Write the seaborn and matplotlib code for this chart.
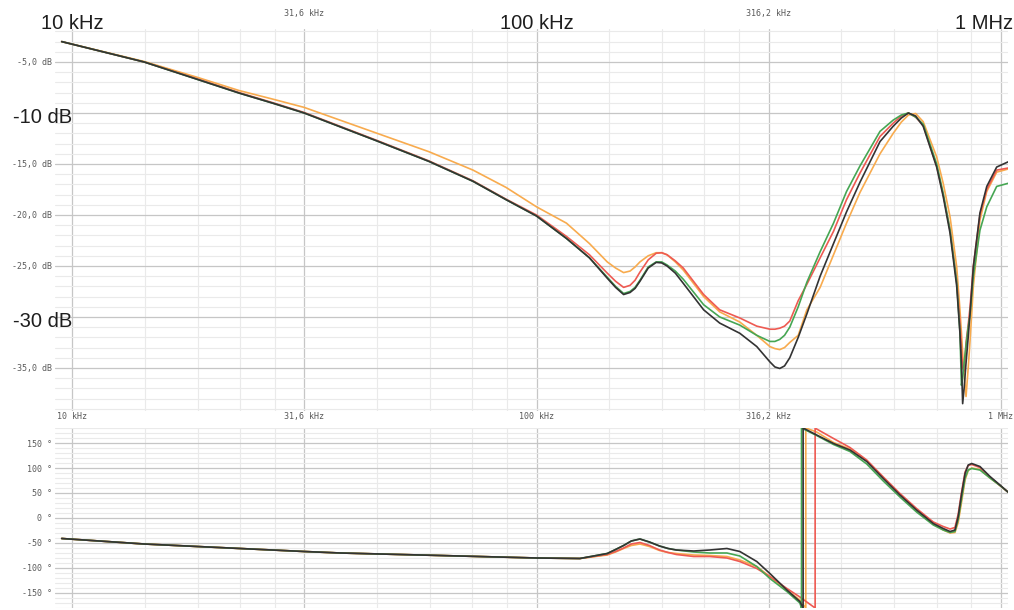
import matplotlib
matplotlib.use('Agg')
import matplotlib.pyplot as plt
import matplotlib.ticker as mticker
import pandas as pd
import seaborn as sns


# Trace data

TRACES = ['orange', 'red', 'green', 'black']
TRACE_COLORS = {'orange': '#f8ab4e', 'red': '#ee5a52', 'green': '#46a653', 'black': '#333333'}

MAG_KHZ = [9.5, 14.3, 18.6, 22.9, 27.1, 31.6, 45.1, 58.7, 73, 86,
           100, 116, 130, 142, 148, 154, 159, 163, 167, 174,
           181, 186, 191, 199, 207, 229, 248, 274, 298, 318,
           326, 334, 342, 351, 366, 382, 408, 436, 465, 497,
           549, 586, 610, 632, 655, 680, 727, 751, 777, 803,
           816, 822, 827, 833, 841, 850, 858, 872, 901, 932,
           979, 1035]
MAG_BLACK = [-3.0, -5.0, -6.7, -8.05, -9.05, -10.0, -12.7, -14.75, -16.7, -18.5,
             -20.1, -22.3, -24.2, -26.2, -27.1, -27.8, -27.6, -27.2, -26.5, -25.2,
             -24.65, -24.7, -25.0, -25.7, -26.7, -29.3, -30.6, -31.6, -32.9, -34.4,
             -34.9, -35.05, -34.8, -34.0, -32.0, -29.7, -26.0, -22.8, -19.7, -16.8,
             -12.8, -11.3, -10.5, -10.0, -10.3, -11.3, -15.3, -18.2, -21.8, -27.0,
             -31.6, -34.5, -38.5, -37.0, -34.5, -32.0, -29.6, -25.1, -19.8, -17.2,
             -15.3, -14.8]
MAG_GREEN = [-3.0, -5.0, -6.7, -8.05, -9.05, -10.0, -12.7, -14.75, -16.7, -18.5,
             -20.1, -22.3, -24.2, -26.1, -27.0, -27.7, -27.5, -27.1, -26.4, -25.1,
             -24.6, -24.6, -24.9, -25.5, -26.3, -28.8, -30.0, -30.8, -31.8, -32.4,
             -32.4, -32.2, -31.8, -31.0, -29.0, -26.6, -23.6, -20.8, -17.7, -15.2,
             -11.8, -10.7, -10.2, -10.0, -10.4, -11.1, -15.0, -17.9, -21.5, -26.6,
             -31.5, -36.7, -36.0, -34.5, -32.8, -31.0, -29.8, -26.0, -21.5, -19.2,
             -17.2, -16.9]
MAG_RED = [-3.0, -5.0, -6.65, -8.0, -9.0, -9.95, -12.65, -14.7, -16.65, -18.45,
           -20.0, -22.1, -23.9, -25.7, -26.5, -27.1, -26.9, -26.4, -25.6, -24.4,
           -23.75, -23.7, -23.9, -24.5, -25.2, -27.8, -29.3, -30.1, -30.9, -31.2,
           -31.2, -31.1, -30.9, -30.4, -28.4, -26.8, -24.2, -21.6, -18.5, -15.9,
           -12.3, -11.0, -10.3, -10.0, -10.4, -11.2, -15.2, -18.0, -21.5, -26.5,
           -30.5, -33.0, -35.0, -35.3, -32.5, -30.8, -29.0, -25.0, -20.0, -17.5,
           -15.6, -15.4]
MAG_ORANGE = [-3.0, -4.95, -6.5, -7.8, -8.65, -9.45, -11.95, -13.8, -15.6, -17.3,
              -19.2, -20.8, -22.8, -24.6, -25.2, -25.65, -25.5, -25.1, -24.6, -24.0,
              -23.7, -23.7, -23.9, -24.6, -25.4, -28.0, -29.5, -30.5, -31.8, -32.9,
              -33.1, -33.2, -33.0, -32.5, -31.8, -29.3, -27.1, -23.9, -20.8, -17.8,
              -14.0, -12.0, -10.9, -10.2, -10.05, -10.85, -14.3, -16.9, -20.2, -25.1,
              -29.3, -31.5, -33.5, -35.5, -37.8, -35.0, -32.3, -27.0, -20.5, -17.7,
              -15.8, -15.5]

PH_KHZ = [9.5, 14.3, 18.6, 23, 31.6, 37.8, 62, 100, 124, 142,
          148, 154, 160, 167, 175, 184, 192, 200, 218, 236,
          257, 274, 298, 318, 346, 369, 401, 436, 473, 514,
          558, 606, 658, 715, 751, 777, 796, 809, 823, 837,
          850, 865, 901, 947, 995, 1035]
PH_BLACK = [-41, -52, -57, -61, -67, -70, -75, -80, -81, -71,
            -63, -55, -46, -42, -48, -56, -61, -64, -66, -64,
            -61, -67, -87, -111, -144, -167, 166, 149, 136, 113,
            79, 46, 16, -11, -21, -27, -24, 3, 49, 89,
            106, 109, 103, 83, 66, 52]
PH_GREEN = [-41, -52, -57, -61, -67, -70, -75, -80, -81, -71,
            -63, -55, -46, -42, -48, -56, -61, -64, -68, -70,
            -70, -76, -97, -121, -147, -170, 165, 147, 133, 108,
            74, 42, 12, -14, -24, -29, -27, -3, 40, 80,
            96, 99, 96, 80, 65, 52]
PH_RED = [-41, -52, -57, -61, -67, -70, -75, -80, -81, -73,
          -67, -60, -52, -49, -55, -64, -69, -73, -77, -77,
          -80, -87, -101, -117, -141, -158, 178, 159, 141, 116,
          82, 49, 19, -8, -17, -22, -19, 8, 53, 92,
          105, 107, 101, 82, 65, 52]
PH_ORANGE = [-41, -52, -57, -61, -67, -70, -75, -80, -81, -74,
             -68, -61, -55, -52, -57, -65, -69, -71, -74, -75,
             -77, -84, -97, -117, -144, -164, 172, 151, 138, 114,
             81, 47, 16, -12, -24, -30, -29, -9, 33, 76,
             95, 100, 97, 80, 65, 52]
# frequency where each phase trace jumps from -180 to +180
WRAP_KHZ = {'black': 375, 'green': 372, 'orange': 380, 'red': 398}

X_MAJOR_HZ = [10e3, 10 ** 4.5, 100e3, 10 ** 5.5, 1e6]
X_BOTTOM_LABELS = ['10 kHz', '31,6 kHz', '100 kHz', '316,2 kHz', '1 MHz']
X_TOP_SMALL = {10 ** 4.5: '31,6 kHz', 10 ** 5.5: '316,2 kHz'}
X_TOP_BIG = {10e3: '10 kHz', 100e3: '100 kHz'}
DB_TICKS = [-35, -30, -25, -20, -15, -10, -5]
DB_LABELS = ['-35,0 dB', '', '-25,0 dB', '-20,0 dB', '-15,0 dB', '', '-5,0 dB']
DB_BIG = {-10: '-10 dB', -30: '-30 dB'}
DEG_TICKS = [-150, -100, -50, 0, 50, 100, 150]
DEG_LABELS = ['-150 °', '-100 °', '-50 °', '0 °', '50 °', '100 °', '150 °']

LABEL_GREY = '#5a5a5a'
BIG_FONT = ['Liberation Sans', 'DejaVu Sans']


def _mag_frame() -> pd.DataFrame:
    series = {'black': MAG_BLACK, 'green': MAG_GREEN, 'red': MAG_RED, 'orange': MAG_ORANGE}
    parts = [pd.DataFrame({'khz': MAG_KHZ, 'db': vals, 'trace': name}) for name, vals in series.items()]
    df = pd.concat(parts, ignore_index=True)
    df['hz'] = df['khz'] * 1000
    return df


def _phase_frame() -> pd.DataFrame:
    series = {'black': PH_BLACK, 'green': PH_GREEN, 'red': PH_RED, 'orange': PH_ORANGE}
    parts = []
    for name, vals in series.items():
        f_wrap, rows, done = WRAP_KHZ[name], [], False
        for f, p in zip(PH_KHZ, vals):
            if not done and f > f_wrap:
                rows += [(f_wrap, -180.0), (f_wrap, 180.0)]
                done = True
            rows.append((f, p))
        parts.append(pd.DataFrame(rows, columns=['khz', 'deg']).assign(trace=name))
    df = pd.concat(parts, ignore_index=True)
    df['hz'] = df['khz'] * 1000
    return df


def _minor_freqs() -> list:
    minors = []
    for a, b in zip(X_MAJOR_HZ[:-1], X_MAJOR_HZ[1:]):
        step = (b - a) / 5
        minors += [a + k * step for k in range(1, 5)]
    return minors


def _style_axis(ax: plt.Axes, y_major, y_minor) -> None:
    ax.set_xscale('log')
    ax.set_xlim(9190, 1035500)
    ax.xaxis.set_major_locator(mticker.FixedLocator(X_MAJOR_HZ))
    ax.xaxis.set_minor_locator(mticker.FixedLocator(_minor_freqs()))
    ax.xaxis.set_minor_formatter(mticker.NullFormatter())
    ax.yaxis.set_major_locator(mticker.FixedLocator(y_major))
    ax.yaxis.set_minor_locator(mticker.FixedLocator(y_minor))
    ax.grid(which='major', color='#c6c6c6', lw=0.9)
    ax.grid(which='minor', color='#eaeaea', lw=0.8)
    ax.set_axisbelow(True)
    ax.tick_params(which='both', length=0, labelsize=6, labelcolor=LABEL_GREY, pad=2)
    for s in ax.spines.values():
        s.set_visible(False)
    ax.set_xlabel('')
    ax.set_ylabel('')


sns.set_style('white')
plt.rcParams['font.family'] = ['DejaVu Sans Mono', 'DejaVu Sans']

fig = plt.figure(figsize=(10.14, 6.10), dpi=100)
ax_mag = fig.add_axes([0.05424, 0.32656, 0.93985, 0.62531])
ax_ph = fig.add_axes([0.05424, 0.00246, 0.93985, 0.29672])

# Magnitude
sns.lineplot(data=_mag_frame(), x='hz', y='db', hue='trace', hue_order=TRACES, palette=TRACE_COLORS,
             estimator=None, sort=False, legend=False, lw=1.2, ax=ax_mag)
_style_axis(ax_mag, DB_TICKS, list(range(-39, -1)))
ax_mag.set_ylim(-39.2, -1.8)
ax_mag.set_yticklabels(DB_LABELS)
ax_mag.set_xticklabels(X_BOTTOM_LABELS)
ax_mag.tick_params(axis='x', pad=1)

for f, txt in X_TOP_BIG.items():
    ax_mag.text(f, 1.0, txt, transform=ax_mag.get_xaxis_transform(), ha='center', va='baseline',
                fontsize=14.5, family=BIG_FONT, color='#1e1e1e')
ax_mag.text(1.0052, 1.0, '1 MHz', transform=ax_mag.transAxes, ha='right', va='baseline',
            fontsize=14.5, family=BIG_FONT, color='#1e1e1e')
for f, txt in X_TOP_SMALL.items():
    ax_mag.text(f, 1.0404, txt, transform=ax_mag.get_xaxis_transform(), ha='center', va='center',
                fontsize=6, color=LABEL_GREY)
for db, txt in DB_BIG.items():
    ax_mag.text(10e3, db - 0.95, txt, ha='right', va='baseline', fontsize=14.5, family=BIG_FONT,
                color='#1e1e1e')

# Phase
sns.lineplot(data=_phase_frame(), x='hz', y='deg', hue='trace', hue_order=TRACES, palette=TRACE_COLORS,
             estimator=None, sort=False, legend=False, lw=1.2, ax=ax_ph)
_style_axis(ax_ph, DEG_TICKS, list(range(-180, 181, 10)))
ax_ph.set_ylim(-181, 181)
ax_ph.set_yticklabels(DEG_LABELS)
ax_ph.tick_params(axis='x', labelbottom=False)

fig.savefig('out.png', dpi=100)
plt.close(fig)
